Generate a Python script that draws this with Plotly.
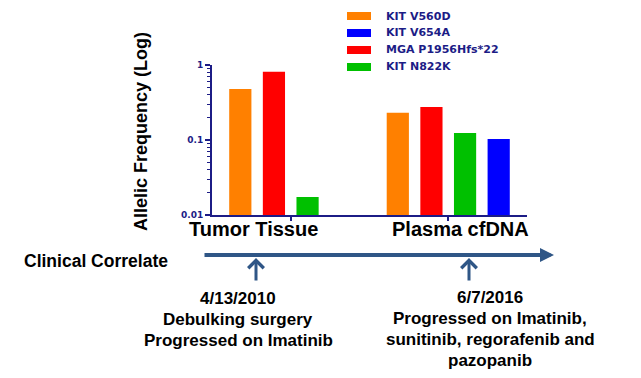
import plotly.graph_objects as go

# ---- data ----
categories = ["Tumor Tissue", "Plasma cfDNA"]
series_names = ["KIT V560D", "MGA P1956Hfs*22", "KIT N822K", "KIT V654A"]
kit_v560d = [0.48, 0.23]
mga_p1956 = [0.81, 0.275]
kit_n822k = [0.0174, 0.124]
kit_v654a = [None, 0.103]
series_values = [kit_v560d, mga_p1956, kit_n822k, kit_v654a]
series_colors = ["#FF8000", "#FF0000", "#00C000", "#0000FF"]
legend_order = ["KIT V560D", "KIT V654A", "MGA P1956Hfs*22", "KIT N822K"]
y_tickvals = [0.01, 0.1, 1]
y_ticktext = ["0.01", "0.1", "1"]
y_title = "Allelic Frequency (Log)"
timeline_label = "Clinical Correlate"
event1_lines = ["4/13/2010", "Debulking surgery", "Progressed on Imatinib"]
event2_lines = ["6/7/2016", "Progressed on Imatinib,", "sunitinib, regorafenib and", "pazopanib"]

NAVY = "#1c1c86"
TL = "#2f5686"
OFF = 8  # page body margin
W, H = 641 - OFF, 378 - OFF
X0, X1, Y0, Y1 = 212, 527, 65, 215  # plot area in page pixels
L, T = X0 - OFF, Y0 - OFF
R, B = W - (X1 - OFF), H - (Y1 - OFF)
PW, PH = X1 - X0, Y1 - Y0


def px(x):
    return (x - X0) / PW


def py(y):
    return (Y1 - y) / PH


fig = go.Figure()
for name, vals, col in zip(series_names, series_values, series_colors):
    fig.add_trace(go.Bar(x=categories, y=vals, name=name, marker=dict(color=col, line=dict(width=0)),
                         showlegend=False))

fig.update_layout(
    width=W, height=H,
    margin=dict(l=L, r=R, t=T, b=B, pad=0),
    paper_bgcolor="white", plot_bgcolor="white",
    barmode="group", bargap=0.146, bargroupgap=0.34,
    font=dict(family="Liberation Sans, Arial, sans-serif", color="black"),
)
fig.update_xaxes(
    showline=True, linecolor=NAVY, linewidth=2, showgrid=False, zeroline=False,
    ticks="outside", ticklen=4, tickcolor=NAVY, tickwidth=2, showticklabels=False,
    range=[-0.5, 1.5],
)
fig.update_yaxes(
    type="log", range=[-2, 0], showline=True, linecolor=NAVY, linewidth=2,
    showgrid=False, zeroline=False, ticks="outside", ticklen=5, tickwidth=2, tickcolor=NAVY,
    tickvals=y_tickvals, ticktext=y_ticktext,
    tickfont=dict(size=9, color=NAVY, family="DejaVu Sans, sans-serif", weight="bold"),
    minor=dict(ticks="outside", ticklen=3, tickcolor=NAVY, tickwidth=1, dtick="D1"),
)

ann = []
# category labels
cat_x = [253, 460]
for c, cx in zip(categories, cat_x):
    ann.append(dict(text=c, x=px(cx), y=py(229), xref="paper", yref="paper", showarrow=False,
                    xanchor="center", yanchor="middle", borderpad=0,
                    font=dict(size=20, color="black", family="Liberation Sans, Arial", weight="bold")))
# y title
ann.append(dict(text=y_title, x=px(141), y=py(132), xref="paper", yref="paper", showarrow=False,
                textangle=-90, xanchor="center", yanchor="middle",
                font=dict(size=18, color="black", family="Liberation Sans, Arial", weight="bold")))
# legend (manual swatches)
shapes = []
leg_y = [16, 33, 50, 67]
color_map = dict(zip(series_names, series_colors))
for name, ly in zip(legend_order, leg_y):
    shapes.append(dict(type="rect", xref="paper", yref="paper", x0=px(347), x1=px(371),
                       y0=py(ly + 4), y1=py(ly - 4), fillcolor=color_map[name], line=dict(width=0)))
    ann.append(dict(text=name, x=px(384), y=py(ly), xref="paper", yref="paper", showarrow=False,
                    xanchor="left", yanchor="middle",
                    font=dict(size=11, color=NAVY, family="DejaVu Sans, sans-serif", weight="bold")))
# timeline
ann.append(dict(text=timeline_label, x=px(22), y=py(261), xref="paper", yref="paper", showarrow=False,
                xanchor="left", yanchor="middle",
                font=dict(size=17.5, color="black", family="Liberation Sans, Arial", weight="bold")))
ann.append(dict(text="", x=px(554), y=py(255), xref="paper", yref="paper", showarrow=True,
                ax=-351, ay=0, arrowhead=2, arrowsize=0.7, arrowwidth=4, arrowcolor=TL))
for axp in [256, 469]:
    ann.append(dict(text="", x=px(axp), y=py(258), xref="paper", yref="paper", showarrow=True,
                    ax=0, ay=24, arrowhead=4, arrowsize=1.0, arrowwidth=3, arrowcolor=TL))
for lines, cx, y0 in [(event1_lines, 238, 298), (event2_lines, 490, 297)]:
    for i, t in enumerate(lines):
        ann.append(dict(text=t, x=px(cx), y=py(y0 + i * 21.3), xref="paper", yref="paper",
                        showarrow=False, xanchor="center", yanchor="middle",
                        font=dict(size=17, color="black", family="Liberation Sans, Arial", weight="bold")))

fig.update_layout(annotations=ann, shapes=shapes)
fig.write_html("out.html")
